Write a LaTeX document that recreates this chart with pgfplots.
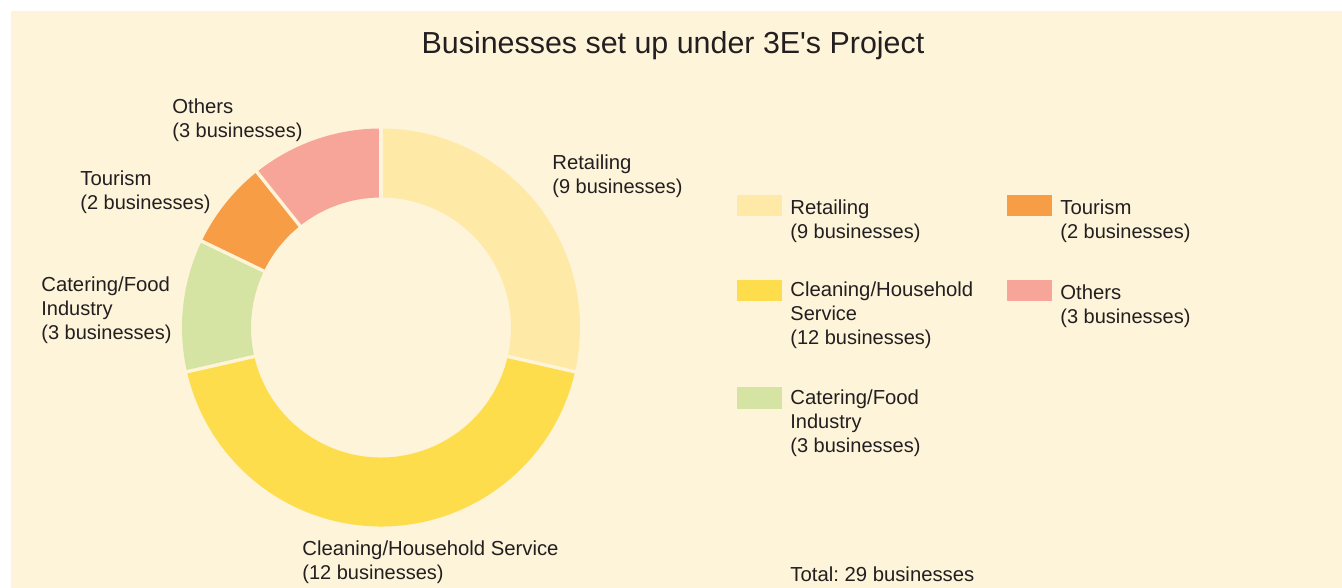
\documentclass[border=0pt]{standalone}
\usepackage{pgfplots}
\usepackage{pgfplotstable}
\pgfplotsset{compat=1.18}
\usepackage{fontspec}
\setmainfont{Liberation Sans}
\frenchspacing
\definecolor{Panel}{HTML}{FEF4DA}
\definecolor{Ink}{HTML}{231F20}
\definecolor{cRetail}{HTML}{FEE9A6}
\definecolor{cClean}{HTML}{FDDD4B}
\definecolor{cCater}{HTML}{D5E4A2}
\definecolor{cTour}{HTML}{F79D45}
\definecolor{cOther}{HTML}{F7A499}

% w = share of the ring as drawn, n = count printed in the labels
\pgfplotstableread{
name w n col
Retailing 8 9 cRetail
Cleaning 12 12 cClean
Catering 3 3 cCater
Tourism 2 2 cTour
Others 3 3 cOther
}\sectors

\newcommand\lab[1]{\fontsize{10.15}{10.9}\selectfont#1}
% nodes are placed by the baseline of their last line
\tikzset{lbl/.style={anchor=base west,align=left,inner sep=0pt,text=Ink}}

\begin{document}
\begin{tikzpicture}
% start/end angle of each sector, clockwise from the top
\def\total{28}
\xdef\acur{90}
\foreach \i in {0,...,4}{%
  \pgfplotstablegetelem{\i}{w}\of\sectors
  \pgfmathsetmacro\anext{\acur-\pgfplotsretval*360/\total}%
  \expandafter\xdef\csname aS\i\endcsname{\acur}%
  \expandafter\xdef\csname aE\i\endcsname{\anext}%
  \pgfplotstablegetelem{\i}{col}\of\sectors
  \expandafter\xdef\csname cl\i\endcsname{\pgfplotsretval}%
  \xdef\acur{\anext}%
}
\begin{axis}[
  width=671pt,height=294pt,scale only axis,
  xmin=0,xmax=1342,ymin=0,ymax=588,
  hide axis,clip=false,
]
\fill[white] (axis cs:0,0) rectangle (axis cs:1342,588);
\fill[Panel] (axis cs:11,0) rectangle (axis cs:1342,577);

\node[anchor=base,font=\fontsize{15.2}{17}\selectfont,text=Ink] at (axis cs:673,534.5) {Businesses set up under 3E\textquotesingle s Project};

% ring
\coordinate (c) at (axis cs:381,260.5);
\pgfplotsinvokeforeach{0,...,4}{
  \fill[\csname cl#1\endcsname] (c) ++(\csname aS#1\endcsname:99.5pt)
    arc[start angle=\csname aS#1\endcsname,end angle=\csname aE#1\endcsname,radius=99.5pt]
    -- ([shift={(\csname aE#1\endcsname:65pt)}]c)
    arc[start angle=\csname aE#1\endcsname,end angle=\csname aS#1\endcsname,radius=65pt]
    -- cycle;
}
\pgfplotsinvokeforeach{0,...,4}{
  \draw[Panel,line width=1.7pt] ([shift={(\csname aS#1\endcsname:64pt)}]c) -- ([shift={(\csname aS#1\endcsname:101pt)}]c);
}

% labels round the ring
\node[lbl] at (axis cs:552,394.7) {\lab{Retailing\\(9 businesses)}};
\node[lbl] at (axis cs:302,8.7) {\lab{Cleaning/Household Service\\(12 businesses)}};
\node[lbl] at (axis cs:41,248.9) {\lab{Catering/Food\\Industry\\(3 businesses)}};
\node[lbl] at (axis cs:80,378.7) {\lab{Tourism\\(2 businesses)}};
\node[lbl] at (axis cs:172,450.4) {\lab{Others\\(3 businesses)}};

% legend
\fill[cRetail] (axis cs:736.5,371.5) rectangle (axis cs:781.5,393);
\node[lbl] at (axis cs:790,349.9) {\lab{Retailing\\(9 businesses)}};
\fill[cClean] (axis cs:736.5,286.5) rectangle (axis cs:781.5,308);
\node[lbl] at (axis cs:790,243.1) {\lab{Cleaning/Household\\Service\\(12 businesses)}};
\fill[cCater] (axis cs:736.5,179) rectangle (axis cs:781.5,200.5);
\node[lbl] at (axis cs:790,135.7) {\lab{Catering/Food\\Industry\\(3 businesses)}};
\fill[cTour] (axis cs:1007,371.5) rectangle (axis cs:1052,393);
\node[lbl] at (axis cs:1060,349.9) {\lab{Tourism\\(2 businesses)}};
\fill[cOther] (axis cs:1007,286.5) rectangle (axis cs:1052,308);
\node[lbl] at (axis cs:1060,264.9) {\lab{Others\\(3 businesses)}};

\node[lbl] at (axis cs:790,6.5) {\lab{Total: 29 businesses}};
\end{axis}
\end{tikzpicture}
\end{document}
